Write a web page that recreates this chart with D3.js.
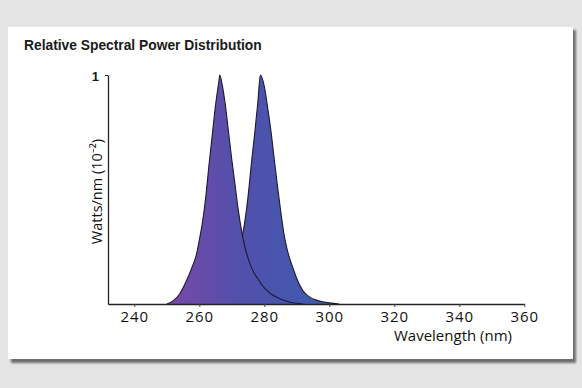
<!DOCTYPE html>
<html>
<head>
<meta charset="utf-8">
<script src="https://cdn.jsdelivr.net/npm/d3@7"></script>
<style>
  html, body { margin: 0; padding: 0; background: #e4e4e4; }
  svg { display: block; }
</style>
</head>
<body>
<svg id="chart" width="582" height="388"></svg>
<script>
// ---- data ----
const title = "Relative Spectral Power Distribution";
const xLabel = "Wavelength (nm)";
const yLabel = "Watts/nm (10\u207B\u00B2)";
const xTicks = [240, 260, 280, 300, 320, 340, 360];
const yTicks = [1];

const peak1Wavelength = [250, 252, 254, 256, 258, 259, 260, 261, 262, 263, 264, 265, 266, 266.3, 267, 268, 269, 270, 271, 272, 273, 274, 275, 276, 278, 280, 282, 284, 286, 288, 290, 292];
const peak1Value      = [0, 0.015, 0.045, 0.10, 0.17, 0.21, 0.28, 0.36, 0.47, 0.61, 0.74, 0.87, 0.97, 1.0, 0.96, 0.87, 0.75, 0.63, 0.52, 0.41, 0.32, 0.25, 0.20, 0.16, 0.11, 0.07, 0.045, 0.028, 0.016, 0.008, 0.003, 0];

const peak2Wavelength = [263, 265, 267, 269, 271, 272, 273, 274, 275, 276, 277, 278, 278.8, 280, 281, 282, 283, 284, 285, 286, 287, 288, 289, 290, 292, 294, 296, 298, 300, 303];
const peak2Value      = [0, 0.015, 0.045, 0.10, 0.17, 0.21, 0.28, 0.36, 0.47, 0.61, 0.74, 0.88, 1.0, 0.95, 0.86, 0.76, 0.64, 0.52, 0.41, 0.31, 0.24, 0.19, 0.15, 0.11, 0.055, 0.03, 0.017, 0.01, 0.005, 0];

// ---- drawing ----
const svg = d3.select("#chart");
const defs = svg.append("defs");

const blur = defs.append("filter").attr("id", "shadow").attr("x", "-5%").attr("y", "-5%").attr("width", "110%").attr("height", "110%");
blur.append("feGaussianBlur").attr("stdDeviation", 1.2);

const grad = defs.append("linearGradient")
  .attr("id", "fillGrad")
  .attr("gradientUnits", "userSpaceOnUse")
  .attr("x1", 165).attr("y1", 0).attr("x2", 330).attr("y2", 0);
grad.append("stop").attr("offset", "0%").attr("stop-color", "#7a48a8");
grad.append("stop").attr("offset", "45%").attr("stop-color", "#5250ab");
grad.append("stop").attr("offset", "100%").attr("stop-color", "#3c5cb0");

// card + shadow
svg.append("rect").attr("x", 11).attr("y", 30).attr("width", 565).attr("height", 333)
  .attr("fill", "#6e6e6e").attr("filter", "url(#shadow)");
svg.append("rect").attr("x", 8).attr("y", 27).attr("width", 565).attr("height", 332)
  .attr("fill", "#ffffff");

const x = d3.scaleLinear().domain([231.9, 360]).range([108, 524.3]);
const y = d3.scaleLinear().domain([0, 1]).range([304, 75]);

const area = d3.area()
  .x(d => x(d[0]))
  .y0(y(0))
  .y1(d => y(d[1]))
  .curve(d3.curveMonotoneX);
const line = d3.line()
  .x(d => x(d[0]))
  .y(d => y(d[1]))
  .curve(d3.curveMonotoneX);

const p1 = d3.zip(peak1Wavelength, peak1Value);
const p2 = d3.zip(peak2Wavelength, peak2Value);

// peak 2 underneath, peak 1 on top
[p2, p1].forEach(pts => {
  svg.append("path").datum(pts).attr("d", area).attr("fill", "url(#fillGrad)");
  svg.append("path").datum(pts).attr("d", line)
    .attr("fill", "none").attr("stroke", "#1c1a30").attr("stroke-width", 1.1);
});

// x axis
const xAxis = d3.axisBottom(x).tickValues(xTicks).tickSize(3).tickSizeOuter(0).tickPadding(4);
const gx = svg.append("g").attr("transform", "translate(0,304)").call(xAxis);
gx.select(".domain").attr("stroke", "#222").attr("stroke-width", 1.3);
gx.selectAll(".tick line").attr("stroke", "#444");
gx.selectAll(".tick text")
  .attr("font-family", "'Open Sans', sans-serif")
  .attr("font-size", 15)
  .attr("letter-spacing", 1)
  .attr("fill", "#111");

// y axis
const yAxis = d3.axisLeft(y).tickValues(yTicks).tickFormat(d3.format("d")).tickSize(3).tickSizeOuter(0).tickPadding(6);
const gy = svg.append("g").attr("transform", "translate(108,0)").call(yAxis);
gy.select(".domain").attr("stroke", "#222").attr("stroke-width", 1.3);
gy.selectAll(".tick line").attr("stroke", "#222");
gy.selectAll(".tick text")
  .attr("font-family", "'Liberation Sans', Arial, sans-serif")
  .attr("font-weight", "bold")
  .attr("font-size", 13)
  .attr("dy", "0.45em")
  .attr("fill", "#1a1a1a");

// titles
svg.append("text").attr("x", 24).attr("y", 49.5)
  .attr("font-family", "'Liberation Sans', Arial, sans-serif")
  .attr("font-weight", "bold").attr("font-size", 13.8).attr("fill", "#1a1a1a")
  .text(title);

svg.append("text").attr("x", 453).attr("y", 341)
  .attr("text-anchor", "middle")
  .attr("font-family", "'Open Sans', sans-serif")
  .attr("font-size", 15).attr("fill", "#111")
  .text(xLabel);

svg.append("text")
  .attr("transform", "translate(102,191.5) rotate(-90)")
  .attr("text-anchor", "middle")
  .attr("font-family", "'Open Sans', sans-serif")
  .attr("font-size", 14.5).attr("fill", "#111")
  .text(yLabel);
</script>
</body>
</html>
